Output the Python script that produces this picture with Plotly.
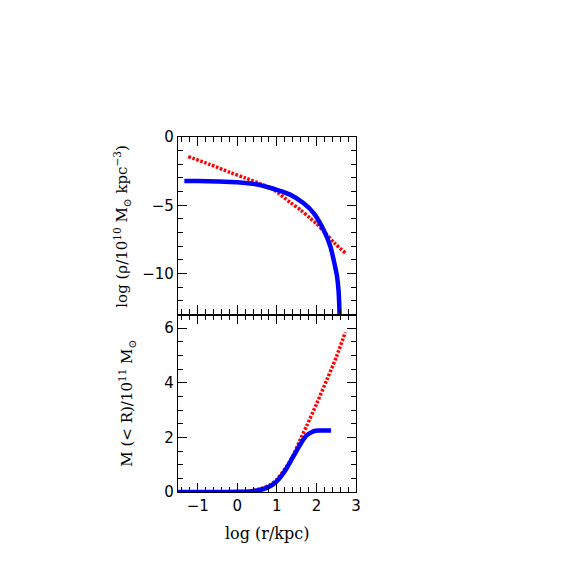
import plotly.graph_objects as go

# density panel (log rho / 1e10 Msun kpc^-3)
rho_x_blue = [-1.34, -1.0, -0.5, 0.0, 0.5, 0.78, 1.0, 1.335, 1.67, 1.93, 2.18, 2.35, 2.47, 2.52, 2.56, 2.575, 2.585]
rho_y_blue = [-3.22, -3.23, -3.26, -3.32, -3.48, -3.68, -3.87, -4.22, -4.84, -5.57, -6.79, -8.0, -9.47, -10.2, -11.3, -12.2, -13.0]
rho_x_red = [-1.24, -0.7, -0.18, 0.2, 0.6, 0.91, 1.34, 1.6, 1.84, 2.0, 2.2, 2.45, 2.73]
rho_y_red = [-1.44, -2.0, -2.6, -3.0, -3.45, -3.85, -4.8, -5.35, -5.95, -6.35, -6.95, -7.75, -8.49]

# enclosed mass panel (M(<R) / 1e11 Msun)
m_x_blue = [-1.5, -1.0, -0.5, 0.0, 0.32, 0.66, 0.85, 0.995, 1.12, 1.25, 1.42, 1.59, 1.75, 1.92, 2.09, 2.2, 2.37]
m_y_blue = [0.0, 0.0, 0.0, 0.005, 0.02, 0.11, 0.23, 0.39, 0.6, 0.88, 1.31, 1.74, 2.07, 2.22, 2.25, 2.25, 2.25]
m_x_red = [-1.3, -0.5, 0.0, 0.32, 0.66, 0.85, 0.995, 1.12, 1.25, 1.42, 1.59, 1.75, 2.01, 2.26, 2.51, 2.73]
m_y_red = [0.0, 0.0, 0.01, 0.03, 0.15, 0.28, 0.45, 0.68, 0.94, 1.37, 1.92, 2.41, 3.25, 4.1, 4.97, 5.85]

x_tickvals = [-1, 0, 1, 2, 3]
x_ticktext = ["\u22121", "0", "1", "2", "3"]
rho_tickvals = [0, -5, -10]
rho_ticktext = ["0", "\u22125", "\u221210"]
m_tickvals = [0, 2, 4, 6]
m_ticktext = ["0", "2", "4", "6"]

BLUE = "#0000FF"
RED = "#FF0000"
RED_DASH = "2.6px,1.6px"

fig = go.Figure()
fig.add_trace(go.Scatter(x=rho_x_red, y=rho_y_red, mode="lines", line=dict(color=RED, width=3.5, dash=RED_DASH, shape="spline", smoothing=0.8), xaxis="x", yaxis="y", showlegend=False))
fig.add_trace(go.Scatter(x=rho_x_blue, y=rho_y_blue, mode="lines", line=dict(color=BLUE, width=4.5, shape="spline", smoothing=0.8), xaxis="x", yaxis="y", showlegend=False))
fig.add_trace(go.Scatter(x=m_x_red, y=m_y_red, mode="lines", line=dict(color=RED, width=3.5, dash=RED_DASH, shape="spline", smoothing=0.8), xaxis="x2", yaxis="y2", showlegend=False))
fig.add_trace(go.Scatter(x=m_x_blue, y=m_y_blue, mode="lines", line=dict(color=BLUE, width=4.5, shape="spline", smoothing=0.8), xaxis="x2", yaxis="y2", showlegend=False))

tickfont = dict(family="DejaVu Sans", size=15, color="black")
titlefont = dict(family="DejaVu Serif", size=15, color="black")
common = dict(showgrid=False, zeroline=False, showline=True, linecolor="black", linewidth=1.3,
              mirror="ticks", ticks="inside", ticklen=9, tickwidth=1.2, tickcolor="black",
              tickfont=tickfont)
minor_x = dict(dtick=0.2, ticks="inside", ticklen=5, tickwidth=1, tickcolor="black")

fig.update_layout(
    width=581, height=581,
    margin=dict(l=170, r=233, t=129, b=97),
    paper_bgcolor="white", plot_bgcolor="white",
    xaxis=dict(domain=[0, 1], range=[-1.5, 3], anchor="y", showticklabels=False, tickvals=x_tickvals, minor=minor_x, **common),
    yaxis=dict(domain=[0.5, 1], range=[-13, 0], anchor="x", minor=dict(dtick=1, ticks="inside", ticklen=5, tickwidth=1, tickcolor="black"),
               tickvals=rho_tickvals, ticktext=rho_ticktext, **common),
    xaxis2=dict(domain=[0, 1], range=[-1.5, 3], anchor="y2", minor=minor_x,
                tickvals=x_tickvals, ticktext=x_ticktext, **common),
    yaxis2=dict(domain=[0, 0.5], range=[0, 6.5], anchor="x2", minor=dict(dtick=0.5, ticks="inside", ticklen=5, tickwidth=1, tickcolor="black"),
                tickvals=m_tickvals, ticktext=m_ticktext, **common),
    annotations=[
        dict(text="log (r/kpc)", x=0.5, y=-0.085, xref="paper", yref="paper", showarrow=False,
             font=dict(family="DejaVu Serif", size=16, color="black"), xanchor="center", yanchor="top"),
        dict(text="log (\u03c1/10<sup>10</sup> M<sub>\u2299</sub> kpc<sup>\u22123</sup>)", x=-0.315, y=0.75, xref="paper", yref="paper",
             showarrow=False, textangle=-90, xanchor="center", yanchor="middle", font=titlefont),
        dict(text="M (< R)/10<sup>11</sup> M<sub>\u2299</sub>", x=-0.29, y=0.25, xref="paper", yref="paper",
             showarrow=False, textangle=-90, xanchor="center", yanchor="middle", font=titlefont),
    ],
)

fig.write_html("out.html")
